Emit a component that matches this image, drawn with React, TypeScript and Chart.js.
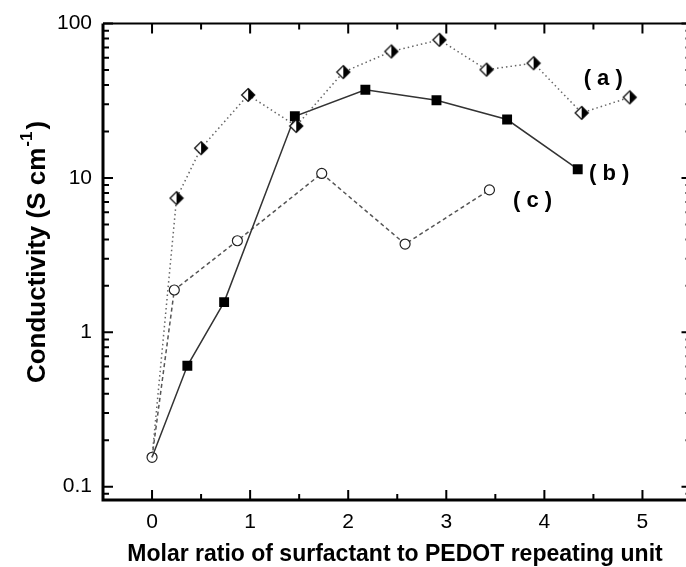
import React, { useEffect, useRef } from 'react';
import { Chart, registerables } from 'chart.js';
Chart.register(...registerables);

// Series (a): half-filled diamonds, dotted line
const aX = [0, 0.25, 0.5, 0.98, 1.47, 1.95, 2.44, 2.93, 3.41, 3.89, 4.38, 4.87];
const aY = [0.155, 7.4, 15.6, 34.5, 21.7, 48.5, 66, 78.5, 50.3, 55.4, 26.4, 33.3];
// Series (b): filled squares, solid line
const bX = [0, 0.36, 0.735, 1.456, 2.175, 2.9, 3.62, 4.34];
const bY = [0.155, 0.607, 1.57, 25.1, 37.3, 31.9, 23.9, 11.4];
// Series (c): open circles, dashed line
const cX = [0, 0.227, 0.87, 1.73, 2.58, 3.44];
const cY = [0.155, 1.88, 3.92, 10.7, 3.73, 8.37];

const xTicks = [0, 1, 2, 3, 4, 5];
const yTicks = [0.1, 1, 10, 100];
const seriesNames = ['( a )', '( b )', '( c )'];
const nameX = [4.6, 4.66, 3.88];
const nameY = [44, 10.6, 7.1];

const xTitle = 'Molar ratio of surfactant to PEDOT repeating unit';
const yTitleMain = 'Conductivity (S cm';
const yTitleSup = '-1';
const yTitleEnd = ')';

const FONT = '"Liberation Sans", Arial, Helvetica, sans-serif';

function makeDiamond(): HTMLCanvasElement {
  const s = 16;
  const c = document.createElement('canvas');
  c.width = s;
  c.height = s;
  const g = c.getContext('2d')!;
  const m = s / 2;
  const r = 6.5;
  g.beginPath();
  g.moveTo(m, m - r);
  g.lineTo(m - r, m);
  g.lineTo(m, m + r);
  g.closePath();
  g.fillStyle = '#fff';
  g.fill();
  g.beginPath();
  g.moveTo(m, m - r);
  g.lineTo(m + r, m);
  g.lineTo(m, m + r);
  g.closePath();
  g.fillStyle = '#000';
  g.fill();
  g.beginPath();
  g.moveTo(m, m - r);
  g.lineTo(m + r, m);
  g.lineTo(m, m + r);
  g.lineTo(m - r, m);
  g.closePath();
  g.strokeStyle = '#000';
  g.lineWidth = 1.2;
  g.stroke();
  return c;
}

const framePlugin = {
  id: 'frame',
  afterDraw(chart: any) {
    const { ctx, chartArea, scales } = chart;
    const { left, right, top, bottom } = chartArea;
    const x = scales.x;
    const y = scales.y;
    ctx.save();
    ctx.strokeStyle = '#000';
    ctx.lineCap = 'butt';
    ctx.lineWidth = 3;
    ctx.beginPath();
    ctx.moveTo(left, top);
    ctx.lineTo(left, bottom);
    ctx.lineTo(right, bottom);
    ctx.stroke();
    ctx.lineWidth = 2;
    ctx.beginPath();
    ctx.moveTo(left, top);
    ctx.lineTo(right, top);
    ctx.lineTo(right, bottom);
    ctx.stroke();
    ctx.lineWidth = 2;
    for (let k = -1; k <= 11; k++) {
      const v = k / 2;
      if (v <= x.min || v >= x.max) continue;
      const px = x.getPixelForValue(v);
      const len = k % 2 === 0 ? 10 : 6;
      ctx.beginPath();
      ctx.moveTo(px, bottom);
      ctx.lineTo(px, bottom - len);
      ctx.moveTo(px, top);
      ctx.lineTo(px, top + len);
      ctx.stroke();
    }
    for (let d = -2; d <= 2; d++) {
      for (let m = 1; m <= 9; m++) {
        const v = m * Math.pow(10, d);
        if (v < y.min || v > y.max) continue;
        const py = y.getPixelForValue(v);
        const len = m === 1 ? 10 : 6;
        ctx.beginPath();
        ctx.moveTo(left, py);
        ctx.lineTo(left + len, py);
        ctx.moveTo(right, py);
        ctx.lineTo(right - len, py);
        ctx.stroke();
      }
    }
    ctx.fillStyle = '#000';
    ctx.font = `bold 22px ${FONT}`;
    ctx.textAlign = 'center';
    ctx.textBaseline = 'middle';
    for (let i = 0; i < seriesNames.length; i++) {
      ctx.fillText(seriesNames[i], x.getPixelForValue(nameX[i]), y.getPixelForValue(nameY[i]));
    }
    ctx.font = `bold 23px ${FONT}`;
    ctx.textAlign = 'center';
    ctx.textBaseline = 'middle';
    ctx.fillText(xTitle, 395, 555);
    ctx.translate(38, 252);
    ctx.rotate(-Math.PI / 2);
    const mainFont = `bold 26px ${FONT}`;
    const supFont = `bold 17px ${FONT}`;
    ctx.font = mainFont;
    const w1 = ctx.measureText(yTitleMain).width;
    const w3 = ctx.measureText(yTitleEnd).width;
    ctx.font = supFont;
    const w2 = ctx.measureText(yTitleSup).width;
    const total = w1 + w2 + w3 + 3;
    let cx = -total / 2;
    ctx.textAlign = 'left';
    ctx.font = mainFont;
    ctx.fillText(yTitleMain, cx, 0);
    cx += w1 + 1;
    ctx.font = supFont;
    ctx.fillText(yTitleSup, cx, -11);
    cx += w2 + 2;
    ctx.font = mainFont;
    ctx.fillText(yTitleEnd, cx, 0);
    ctx.restore();
  },
};

function pts(xs: number[], ys: number[]) {
  return xs.map((v, i) => ({ x: v, y: ys[i] }));
}

export default function App() {
  const ref = useRef<HTMLCanvasElement>(null);
  useEffect(() => {
    if (!ref.current) return;
    const diamond = makeDiamond();
    const chart = new Chart(ref.current, {
      type: 'line',
      data: {
        datasets: [
          {
            label: 'a',
            data: pts(aX, aY),
            borderColor: '#666',
            borderWidth: 1.5,
            borderDash: [1.5, 3],
            pointStyle: diamond as any,
            pointRadius: aX.map((_, i) => (i === 0 ? 0 : 7)) as any,
            tension: 0,
          },
          {
            label: 'b',
            data: pts(bX, bY),
            borderColor: '#333',
            borderWidth: 1.5,
            pointStyle: 'rect',
            pointRadius: bX.map((_, i) => (i === 0 ? 0 : 7)) as any,
            pointBackgroundColor: '#000',
            pointBorderColor: '#000',
            pointBorderWidth: 0,
            tension: 0,
          },
          {
            label: 'c',
            data: pts(cX, cY),
            borderColor: '#555',
            borderWidth: 1.5,
            borderDash: [4, 3],
            pointStyle: 'circle',
            pointRadius: 5,
            pointBackgroundColor: '#fff',
            pointBorderColor: '#222',
            pointBorderWidth: 1.2,
            tension: 0,
          },
        ],
      },
      options: {
        responsive: false,
        animation: false,
        layout: { padding: { left: 0, right: 7, top: 22, bottom: 0 } },
        plugins: { legend: { display: false }, tooltip: { enabled: false } },
        scales: {
          x: {
            type: 'linear',
            min: -0.5,
            max: 5.5,
            grid: { display: false, drawTicks: false },
            border: { display: false },
            afterBuildTicks: (s: any) => {
              s.ticks = xTicks.map((v) => ({ value: v }));
            },
            afterFit: (s: any) => {
              s.height = 67;
            },
            ticks: {
              padding: 10,
              color: '#000',
              font: { family: FONT, size: 21 },
              maxRotation: 0,
              callback: (v: any) => String(v),
            },
          },
          y: {
            type: 'logarithmic',
            min: 0.082,
            max: 100,
            grid: { display: false, drawTicks: false },
            border: { display: false },
            afterBuildTicks: (s: any) => {
              s.ticks = yTicks.map((v) => ({ value: v }));
            },
            afterFit: (s: any) => {
              s.width = 103;
            },
            ticks: {
              padding: 11,
              color: '#000',
              font: { family: FONT, size: 21 },
              callback: (v: any) => String(v),
            },
          },
        },
      },
      plugins: [framePlugin],
    });
    return () => chart.destroy();
  }, []);
  return (
    <div
      style={{
        position: 'fixed',
        left: 0,
        top: 0,
        width: 686,
        height: 567,
        overflow: 'hidden',
        background: '#fff',
      }}
    >
      <canvas ref={ref} width={700} height={567} style={{ display: 'block' }} />
    </div>
  );
}
